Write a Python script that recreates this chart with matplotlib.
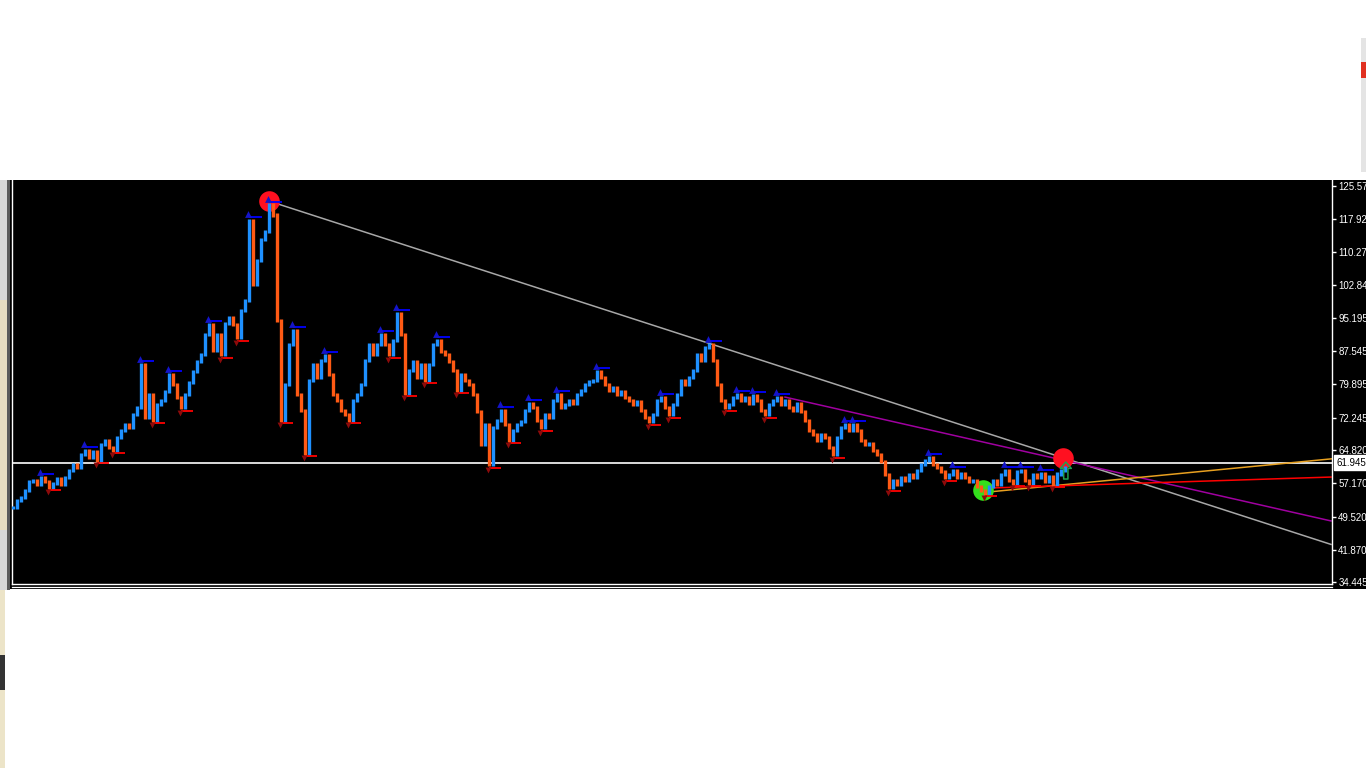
import matplotlib
matplotlib.use('Agg')
import matplotlib.pyplot as plt
import numpy as np
from matplotlib.patches import Rectangle
from matplotlib.lines import Line2D
from matplotlib.path import Path

# ---------------- data ----------------
closes = [
    51.7, 53.3, 54.0, 55.6, 57.5, 57.9, 56.8, 58.4, 57.5, 56.3,
    57.2, 58.2, 57.0, 58.4, 60.2, 61.4, 60.7, 63.7, 64.8, 63.0,
    64.4, 62.5, 66.0, 67.1, 65.5, 64.8, 67.6, 69.4, 70.6, 69.9,
    72.9, 74.5, 84.4, 72.2, 77.5, 71.7, 75.2, 76.3, 78.2, 82.1,
    79.8, 76.8, 74.5, 77.5, 80.3, 82.8, 85.1, 86.7, 91.3, 93.6,
    87.8, 91.3, 86.7, 94.0, 95.2, 93.6, 90.6, 97.0, 99.3, 117.7,
    102.8, 108.5, 113.2, 115.0, 121.2, 118.9, 94.7, 71.7, 79.8, 89.0,
    92.4, 77.5, 74.0, 64.1, 80.9, 84.4, 81.4, 85.5, 86.5, 82.1,
    77.5, 76.3, 74.0, 72.9, 71.7, 76.3, 77.5, 79.8, 85.5, 89.0,
    86.7, 89.0, 91.3, 89.0, 86.7, 90.1, 96.3, 91.3, 77.9, 83.2,
    85.1, 81.4, 84.4, 80.9, 84.4, 89.0, 90.1, 87.4, 86.7, 85.1,
    83.2, 78.6, 82.1, 80.9, 79.8, 77.5, 73.6, 66.0, 70.6, 61.4,
    69.9, 71.7, 74.0, 70.6, 67.1, 69.4, 70.6, 71.3, 74.0, 75.6,
    74.5, 71.7, 69.9, 72.9, 72.2, 76.3, 77.5, 74.5, 75.2, 76.3,
    75.6, 77.5, 78.6, 79.8, 80.5, 80.9, 82.8, 81.4, 79.8, 78.6,
    79.1, 77.5, 78.2, 76.8, 76.3, 75.2, 75.9, 74.0, 72.2, 71.3,
    72.9, 76.3, 76.8, 74.5, 72.9, 75.2, 77.5, 80.9, 79.8, 81.4,
    83.2, 86.7, 85.5, 88.3, 89.0, 85.5, 79.8, 76.3, 74.5, 75.2,
    76.8, 77.5, 76.3, 76.8, 75.6, 77.3, 76.3, 74.0, 72.9, 75.2,
    76.3, 76.8, 75.2, 76.3, 74.5, 74.0, 75.6, 73.6, 71.7, 69.4,
    68.3, 67.1, 68.3, 67.6, 65.3, 63.7, 67.6, 69.9, 70.6, 69.4,
    70.6, 69.4, 67.1, 66.0, 66.4, 64.8, 63.7, 62.1, 59.1, 56.1,
    57.9, 56.8, 58.4, 57.9, 59.1, 58.4, 60.2, 61.4, 62.5, 63.0,
    61.4, 60.7, 59.8, 58.4, 59.1, 60.2, 58.6, 59.5, 58.4, 57.5,
    57.9, 56.5, 55.6, 54.9, 56.5, 57.9, 56.8, 59.1, 60.2, 57.9,
    57.2, 59.8, 60.2, 57.9, 57.2, 59.1, 58.4, 59.5, 57.5, 58.8,
    57.0, 59.3, 60.2, 60.7,
]

tick_values = [125.570, 117.920, 110.270, 102.845, 95.195, 87.545, 79.895,
               72.245, 64.820, 57.170, 49.520, 41.870, 34.445]
tick_labels = ['125.570', '117.920', '110.270', '102.845', '95.195', '87.545',
               '79.895', '72.245', '64.820', '57.170', '49.520', '41.870', '34.445']
current_price = 61.945

# trend lines: [x_start, price_start, x_end, price_end] (bar index / price)
gray_trend = [64.0, 122.1, 329.5, 43.1]
purple_trend = [193.0, 77.0, 329.5, 48.5]
orange_trend = [244.3, 55.2, 329.75, 62.8]
red_trend = [245.0, 56.1, 329.5, 58.6]

# signal circles: (bar index, price)
red_signals_x = [64.0, 262.5]
red_signals_y = [122.1, 63.0]
green_signals_x = [242.5]
green_signals_y = [55.6]

# ---------------- figure ----------------
W, H = 1366, 768
fig = plt.figure(figsize=(W / 100, H / 100), dpi=100)
fig.patch.set_facecolor('white')


def frect(x0, y0, x1, y1, color, z=-10):
    fig.patches.append(Rectangle((x0 / W, 1 - y1 / H), (x1 - x0) / W, (y1 - y0) / H,
                                 transform=fig.transFigure, facecolor=color,
                                 edgecolor='none', zorder=z))


def fline(x0, y0, x1, y1, color, lw=1.0, z=-5):
    fig.lines.append(Line2D([x0 / W, x1 / W], [1 - y0 / H, 1 - y1 / H],
                            transform=fig.transFigure, color=color, lw=lw, zorder=z))


# surrounding UI pieces of the screenshot
frect(0, 180, 1366, 589, '#000000')
frect(0, 180, 8, 590, '#d6d6d6')
frect(0, 300, 7, 530, '#e6dcc0')
frect(7, 180, 10, 590, '#5a5a5a')
frect(0, 590, 5, 768, '#ece4c8')
frect(0, 655, 5, 690, '#333333')
frect(1361, 38, 1366, 172, '#e4e4e4')
frect(1361, 62, 1366, 78, '#e03020')
fline(12, 586.5, 1332, 586.5, 'white', 0.9)

ax = fig.add_axes([12 / W, 1 - 584 / H, (1332 - 12) / W, (584 - 180) / H])
ax.set_zorder(1)
ax.set_facecolor('black')
ax.set_xlim(-0.25, 329.75)
ax.set_ylim(33.99, 126.95)

n = len(closes)
x = np.arange(n)
c = np.array(closes)
o = np.concatenate([[c[0]], c[:-1]])
lo = np.minimum(o, c) - 0.35
hi = np.maximum(o, c) + 0.35
up = c >= o
ax.vlines(x[up], lo[up], hi[up], colors='#1e90ff', lw=2.4, zorder=3)
ax.vlines(x[~up], lo[~up], hi[~up], colors='#ff5a14', lw=2.4, zorder=3)

# fractal markers
w = 3
highs = [i for i in range(w, n - w) if c[i] == c[i - w:i + w + 1].max()]
lows = [i for i in range(w, n - w) if c[i] == c[i - w:i + w + 1].min()]
for i in highs:
    ax.hlines(c[i] + 0.8, i, i + 3.2, colors='#0000ff', lw=1.3, zorder=4)
ax.scatter(np.array(highs) - 0.3, c[highs] + 1.4, marker='^', s=24,
           color='#1414c8', zorder=4, linewidths=0)
for i in lows:
    ax.hlines(c[i] - 0.7, i, i + 3.0, colors='#ff0000', lw=1.3, zorder=4)
ax.scatter(np.array(lows) - 0.3, c[lows] - 1.2, marker='v', s=18,
           color='#8c0a0a', zorder=4, linewidths=0)

# horizontal current level
ax.axhline(current_price, color='white', lw=1.2, zorder=2)

# trend lines
for seg, col in [(gray_trend, '#a8a8a8'), (purple_trend, '#a000a0'),
                 (orange_trend, '#e8a020'), (red_trend, '#ff0000')]:
    ax.plot([seg[0], seg[2]], [seg[1], seg[3]], color=col, lw=1.1, zorder=2)

# signal circles
ax.scatter(red_signals_x, red_signals_y, s=220, color='#ff1020', zorder=2.5, linewidths=0)
ax.scatter(green_signals_x, green_signals_y, s=220, color='#33e01c', zorder=2.5, linewidths=0)

# up arrow at last bar
arrow = Path([(0, 1), (0.65, 0.25), (0.25, 0.25), (0.25, -1), (-0.25, -1),
              (-0.25, 0.25), (-0.65, 0.25), (0, 1)], closed=True)
ax.scatter([n - 1 + 0.2], [c[-1] - 0.6], marker=arrow, s=150, facecolors='none',
           edgecolors='#1fa050', linewidths=1.1, zorder=5)

# axes styling
for side in ['left', 'right', 'bottom']:
    ax.spines[side].set_color('white')
    ax.spines[side].set_linewidth(1.0)
ax.spines['top'].set_visible(False)
ax.set_xticks([])
ax.yaxis.tick_right()
ax.set_yticks(tick_values)
ax.set_yticklabels(tick_labels, fontfamily='Liberation Sans', fontsize=7, color='white')
ax.tick_params(axis='y', colors='white', length=3, width=1, pad=1.5)
for lab in ax.get_yticklabels():
    lab.set_color('white')

ax.annotate('61.945', xy=(1.0, current_price), xycoords=('axes fraction', 'data'),
            xytext=(3.0, 0), textcoords='offset points', ha='left', va='center',
            fontsize=7, fontfamily='Liberation Sans', color='black',
            bbox=dict(boxstyle='square,pad=0.25', fc='white', ec='white'),
            annotation_clip=False, zorder=10)

fig.savefig('out.png', dpi=100, facecolor='white')
